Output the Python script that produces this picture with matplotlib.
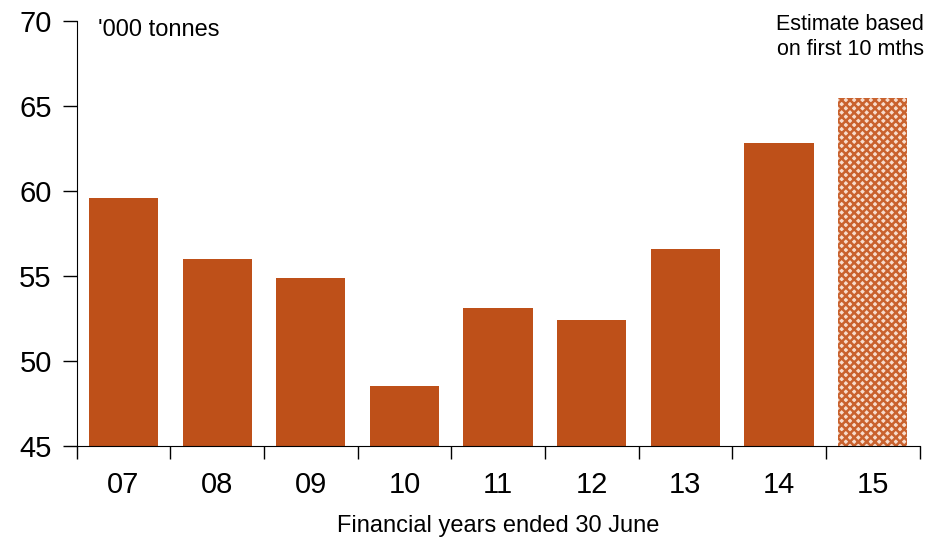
import matplotlib.pyplot as plt

plt.rcParams['font.family'] = ['Liberation Sans', 'DejaVu Sans']
plt.rcParams['hatch.linewidth'] = 1.8

years = ['07', '08', '09', '10', '11', '12', '13', '14', '15']
values = [59.6, 56.0, 54.9, 48.5, 53.1, 52.4, 56.6, 62.8, 65.5]
bar_col = '#BE5019'

fig = plt.figure(figsize=(9.47, 5.43), dpi=100)
ax = fig.add_axes([0.081, 0.179, 0.890, 0.782])

x = list(range(len(years)))
ax.bar(x[:-1], [v - 45 for v in values[:-1]], bottom=45, width=0.74, color=bar_col)
# last year is an estimate -> patterned bar
ax.bar(x[-1], values[-1] - 45, bottom=45, width=0.74, color='#F7DCCD',
       edgecolor='#C9622E', hatch='xxxx', linewidth=0)

ax.set_ylim(45, 70)
ax.set_xlim(-0.5, 8.5)
ax.set_yticks([45, 50, 55, 60, 65, 70])
ax.tick_params(axis='y', direction='out', length=10, labelsize=21, width=1, pad=8)
ax.set_xticks(x)
ax.set_xticklabels(years)
ax.tick_params(axis='x', which='major', length=0, labelsize=21, pad=18)
ax.set_xticks([i - 0.5 for i in range(len(years) + 1)], minor=True)
ax.tick_params(axis='x', which='minor', direction='out', length=9, width=1)

for s in ['top', 'right']:
    ax.spines[s].set_visible(False)

ax.text(-0.27, 70.15, "'000 tonnes", fontsize=17, va='top')
ax.text(7.76, 70.45, 'Estimate based\non first 10 mths', fontsize=15.5,
        ha='center', va='top', linespacing=1.3)
ax.set_xlabel('Financial years ended 30 June', fontsize=17, labelpad=12)

fig.savefig('out.png', dpi=100)
